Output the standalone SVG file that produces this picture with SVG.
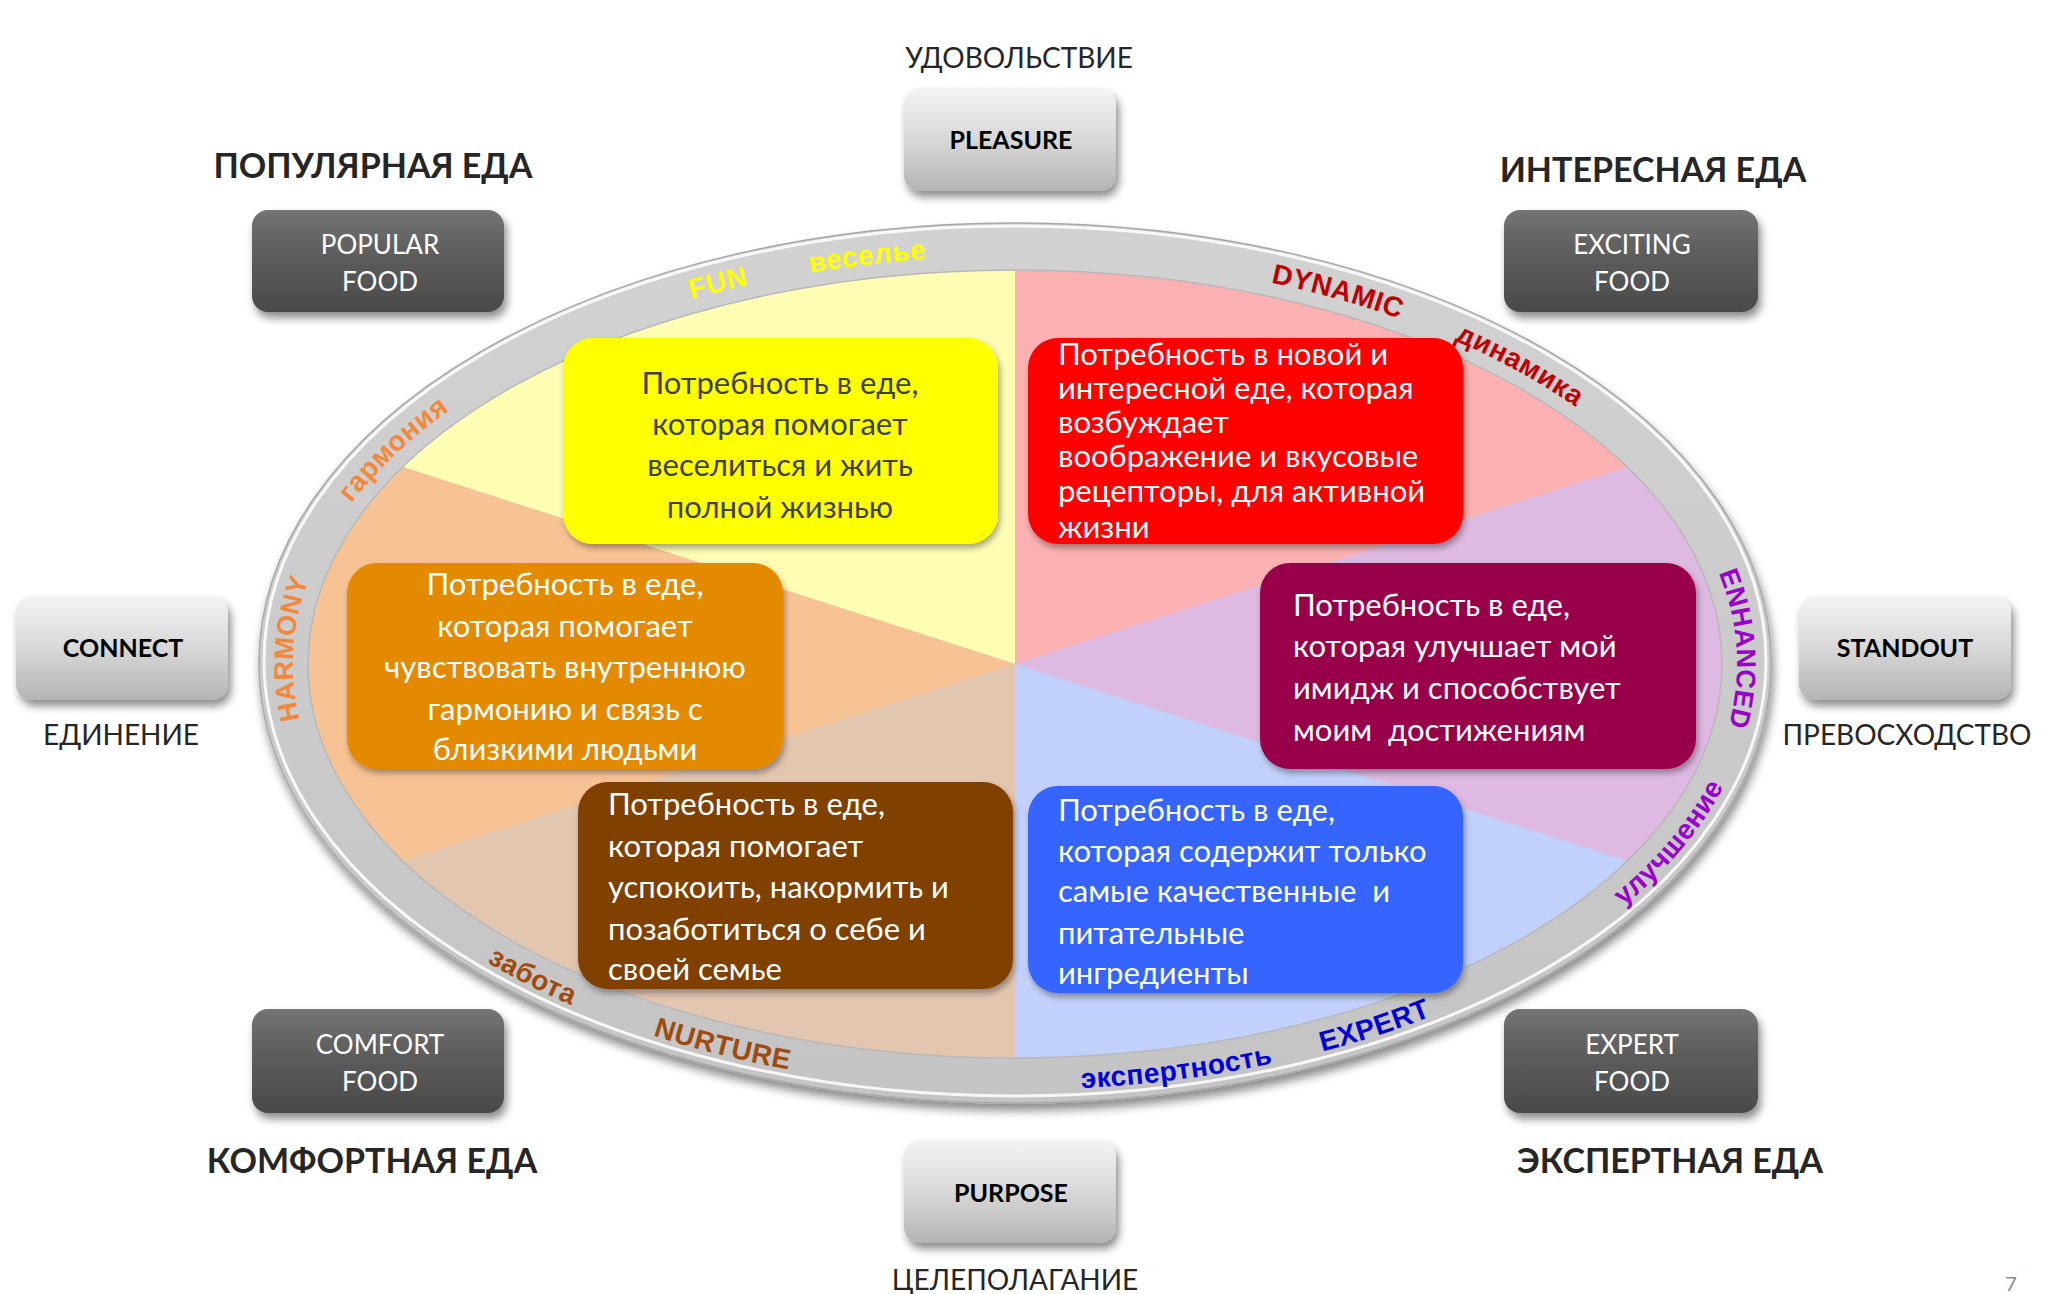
<svg xmlns="http://www.w3.org/2000/svg" width="2054" height="1294" viewBox="0 0 2054 1294">
<style>
.bt{font-family:Lato,"Open Sans","Noto Sans","Liberation Sans",sans-serif;font-size:31px}
.wt{fill:#ffffff}
.dt{fill:#404040}
.title{font-family:Lato,"Open Sans","Noto Sans","Liberation Sans",sans-serif;font-size:34px;font-weight:bold;fill:#262626;text-anchor:middle}
.sub{font-family:Lato,"Open Sans","Noto Sans","Liberation Sans",sans-serif;font-size:28px;fill:#262626;text-anchor:middle}
.nl{font-family:Lato,"Open Sans","Noto Sans","Liberation Sans",sans-serif;font-size:25px;font-weight:bold;fill:#000;text-anchor:middle}
.nd{font-family:Lato,"Open Sans","Noto Sans","Liberation Sans",sans-serif;font-size:26px;fill:#fff;text-anchor:middle}
.rl{font-family:"Liberation Sans",Arial,sans-serif;font-size:28px;font-weight:bold;letter-spacing:0.5px}
</style>
<defs>
<linearGradient id="lg" x1="0" y1="0" x2="0" y2="1">
<stop offset="0" stop-color="#f4f4f4"/><stop offset="0.5" stop-color="#d8d8d8"/><stop offset="1" stop-color="#b4b4b4"/>
</linearGradient>
<linearGradient id="dg" x1="0" y1="0" x2="0" y2="1">
<stop offset="0" stop-color="#747474"/><stop offset="0.45" stop-color="#5c5c5c"/><stop offset="1" stop-color="#4a4a4a"/>
</linearGradient>
<linearGradient id="rg" x1="0" y1="0" x2="0" y2="1">
<stop offset="0" stop-color="#d2d2d2"/><stop offset="1" stop-color="#c4c4c4"/>
</linearGradient>
<filter id="sh" x="-20%" y="-20%" width="140%" height="150%">
<feDropShadow dx="3" dy="6" stdDeviation="4" flood-color="#000" flood-opacity="0.45"/>
</filter>
<filter id="bs" x="-10%" y="-10%" width="120%" height="130%">
<feDropShadow dx="2" dy="4" stdDeviation="3" flood-color="#000" flood-opacity="0.35"/>
</filter>
<filter id="rs" x="-5%" y="-5%" width="110%" height="115%">
<feDropShadow dx="2" dy="7" stdDeviation="5" flood-color="#000" flood-opacity="0.45"/>
</filter>
<path id="pFUN" d="M553 350 A722 408 0 0 1 895 262"/>
<path id="pVES" d="M687.2 300.5 A722 408 0 0 1 1052.8 256.6"/>
<path id="pDYN" d="M1165.1 264.9 A722 408 0 0 1 1498.1 360.8"/>
<path id="pDIN" d="M1376 310.7 A722 408 0 0 1 1640.3 460"/>
<path id="pGAR" d="M317.6 558.4 A722 408 0 0 1 504.5 375.5"/>
<path id="pHAR" d="M311.5 755.8 A722 408 0 0 1 324.6 544.7"/>
<path id="pENH" d="M1705.4 544.7 A722 408 0 0 1 1718.5 755.8"/>
<path id="pULU" d="M1581.8 937.8 A740 426 0 0 0 1743.8 738"/>
<path id="pZAB" d="M394.4 896 A740 426 0 0 0 679 1043.6"/>
<path id="pNUR" d="M549.3 995 A740 426 0 0 0 899.3 1084.8"/>
<path id="pEKS" d="M989.2 1089.7 A740 426 0 0 0 1362.4 1040.1"/>
<path id="pEXP" d="M1206.5 1075.5 A740 426 0 0 0 1538.3 965.2"/>
</defs>
<rect width="2054" height="1294" fill="#ffffff"/>

<g id="wheel">
<ellipse cx="1015" cy="663" rx="756" ry="440" fill="url(#rg)" stroke="#a8a8a8" stroke-width="1.5" filter="url(#rs)"/>
<ellipse cx="1015" cy="661" rx="751" ry="435" fill="none" stroke="#ffffff" stroke-width="3" opacity="0.85"/>
<path d="M1015 664 L402.7 467 A707 394 0 0 1 1015 270 Z" fill="#fefdb4"/>
<path d="M1015 664 L1015 270 A707 394 0 0 1 1627.3 467 Z" fill="#fbb1b1"/>
<path d="M1015 664 L1627.3 467 A707 394 0 0 1 1627.3 861 Z" fill="#deb9e1"/>
<path d="M1015 664 L1627.3 861 A707 394 0 0 1 1015 1058 Z" fill="#c1d1fb"/>
<path d="M1015 664 L1015 1058 A707 394 0 0 1 402.7 861 Z" fill="#e2c6b0"/>
<path d="M1015 664 L402.7 861 A707 394 0 0 1 402.7 467 Z" fill="#f8c394"/>
<ellipse cx="1015" cy="664" rx="707" ry="394" fill="none" stroke="#b8b8b8" stroke-width="1.5"/>
</g>

<g id="ring-labels">
<text class="rl" fill="#ffff00"><textPath href="#pFUN" startOffset="50%" text-anchor="middle">FUN</textPath></text>
<text class="rl" fill="#ffff00"><textPath href="#pVES" startOffset="50%" text-anchor="middle">веселье</textPath></text>
<text class="rl" fill="#c00000"><textPath href="#pDYN" startOffset="50%" text-anchor="middle">DYNAMIC</textPath></text>
<text class="rl" fill="#c00000"><textPath href="#pDIN" startOffset="50%" text-anchor="middle">динамика</textPath></text>
<text class="rl" fill="#f4883a"><textPath href="#pGAR" startOffset="50%" text-anchor="middle">гармония</textPath></text>
<text class="rl" fill="#f4883a" style="font-size:27px;letter-spacing:0.5px"><textPath href="#pHAR" startOffset="50%" text-anchor="middle">HARMONY</textPath></text>
<text class="rl" fill="#9a00cc" style="font-size:27px"><textPath href="#pENH" startOffset="50%" text-anchor="middle">ENHANCED</textPath></text>
<text class="rl" fill="#9a00cc"><textPath href="#pULU" startOffset="50%" text-anchor="middle">улучшение</textPath></text>
<text class="rl" fill="#a04a10"><textPath href="#pZAB" startOffset="50%" text-anchor="middle">забота</textPath></text>
<text class="rl" fill="#a04a10"><textPath href="#pNUR" startOffset="50%" text-anchor="middle">NURTURE</textPath></text>
<text class="rl" fill="#0000dd"><textPath href="#pEKS" startOffset="50%" text-anchor="middle">экспертность</textPath></text>
<text class="rl" fill="#0000dd"><textPath href="#pEXP" startOffset="50%" text-anchor="middle">EXPERT</textPath></text>
</g>

<g id="connectors"/>

<g id="need-fun">
<rect x="563" y="338" width="435" height="206" rx="30" fill="#ffff00" filter="url(#bs)"/>
<text class="bt dt" text-anchor="middle"><tspan x="780" y="394">Потребность в еде,</tspan><tspan x="780" y="435">которая помогает</tspan><tspan x="780" y="476">веселиться и жить</tspan><tspan x="780" y="518">полной жизнью</tspan></text>
</g>
<g id="need-dynamic">
<rect x="1028" y="338" width="435" height="206" rx="30" fill="#ff0000" filter="url(#bs)"/>
<text class="bt wt"><tspan x="1058" y="365">Потребность в новой и</tspan><tspan x="1058" y="399">интересной еде, которая</tspan><tspan x="1058" y="433">возбуждает</tspan><tspan x="1058" y="467">воображение и вкусовые</tspan><tspan x="1058" y="502">рецепторы, для активной</tspan><tspan x="1058" y="538">жизни</tspan></text>
</g>
<g id="need-harmony">
<rect x="347" y="563" width="436" height="206" rx="30" fill="#e48a00" filter="url(#bs)"/>
<text class="bt wt" text-anchor="middle"><tspan x="565" y="595">Потребность в еде,</tspan><tspan x="565" y="637">которая помогает</tspan><tspan x="565" y="678">чувствовать внутреннюю</tspan><tspan x="565" y="720">гармонию и связь с</tspan><tspan x="565" y="760">близкими людьми</tspan></text>
</g>
<g id="need-enhanced">
<rect x="1260" y="563" width="436" height="206" rx="30" fill="#98004a" filter="url(#bs)"/>
<text class="bt wt" xml:space="preserve"><tspan x="1293" y="616">Потребность в еде,</tspan><tspan x="1293" y="657">которая улучшает мой</tspan><tspan x="1293" y="699">имидж и способствует</tspan><tspan x="1293" y="741">моим  достижениям</tspan></text>
</g>
<g id="need-nurture">
<rect x="578" y="782" width="435" height="207" rx="30" fill="#804000" filter="url(#bs)"/>
<text class="bt wt"><tspan x="608" y="815">Потребность в еде,</tspan><tspan x="608" y="857">которая помогает</tspan><tspan x="608" y="898">успокоить, накормить и</tspan><tspan x="608" y="940">позаботиться о себе и</tspan><tspan x="608" y="980">своей семье</tspan></text>
</g>
<g id="need-expert">
<rect x="1028" y="786" width="435" height="207" rx="30" fill="#3565fe" filter="url(#bs)"/>
<text class="bt wt" xml:space="preserve"><tspan x="1058" y="821">Потребность в еде,</tspan><tspan x="1058" y="862">которая содержит только</tspan><tspan x="1058" y="902">самые качественные  и</tspan><tspan x="1058" y="944">питательные</tspan><tspan x="1058" y="984">ингредиенты</tspan></text>
</g>

<g id="pleasure">
<text class="sub" x="1019" y="68">УДОВОЛЬСТВИЕ</text>
<rect x="904" y="88" width="212" height="103" rx="16" fill="url(#lg)" filter="url(#sh)"/>
<text class="nl" x="1011" y="149">PLEASURE</text>
</g>
<g id="connect">
<rect x="16" y="596" width="212" height="104" rx="16" fill="url(#lg)" filter="url(#sh)"/>
<text class="nl" x="123" y="657">CONNECT</text>
<text class="sub" x="121" y="745">ЕДИНЕНИЕ</text>
</g>
<g id="standout">
<rect x="1799" y="596" width="212" height="104" rx="16" fill="url(#lg)" filter="url(#sh)"/>
<text class="nl" x="1905" y="657">STANDOUT</text>
<text class="sub" x="1907" y="745">ПРЕВОСХОДСТВО</text>
</g>
<g id="purpose">
<rect x="904" y="1140" width="212" height="103" rx="16" fill="url(#lg)" filter="url(#sh)"/>
<text class="nl" x="1011" y="1202">PURPOSE</text>
<text class="sub" x="1015" y="1290">ЦЕЛЕПОЛАГАНИЕ</text>
</g>
<g id="popular-food">
<text class="title" x="373" y="178">ПОПУЛЯРНАЯ ЕДА</text>
<rect x="252" y="210" width="252" height="102" rx="16" fill="url(#dg)" filter="url(#sh)"/>
<text class="nd"><tspan x="380" y="254">POPULAR</tspan><tspan x="380" y="291">FOOD</tspan></text>
</g>
<g id="exciting-food">
<text class="title" x="1653" y="182">ИНТЕРЕСНАЯ ЕДА</text>
<rect x="1504" y="210" width="254" height="102" rx="16" fill="url(#dg)" filter="url(#sh)"/>
<text class="nd"><tspan x="1632" y="254">EXCITING</tspan><tspan x="1632" y="291">FOOD</tspan></text>
</g>
<g id="comfort-food">
<rect x="252" y="1009" width="252" height="104" rx="16" fill="url(#dg)" filter="url(#sh)"/>
<text class="nd"><tspan x="380" y="1054">COMFORT</tspan><tspan x="380" y="1091">FOOD</tspan></text>
<text class="title" x="372" y="1173">КОМФОРТНАЯ ЕДА</text>
</g>
<g id="expert-food">
<rect x="1504" y="1009" width="254" height="104" rx="16" fill="url(#dg)" filter="url(#sh)"/>
<text class="nd"><tspan x="1632" y="1054">EXPERT</tspan><tspan x="1632" y="1091">FOOD</tspan></text>
<text class="title" x="1670" y="1173">ЭКСПЕРТНАЯ ЕДА</text>
</g>
<text x="2011" y="1291" font-family="Lato,'Liberation Sans',sans-serif" font-size="20" fill="#8c8c8c" text-anchor="middle">7</text>
</svg>
